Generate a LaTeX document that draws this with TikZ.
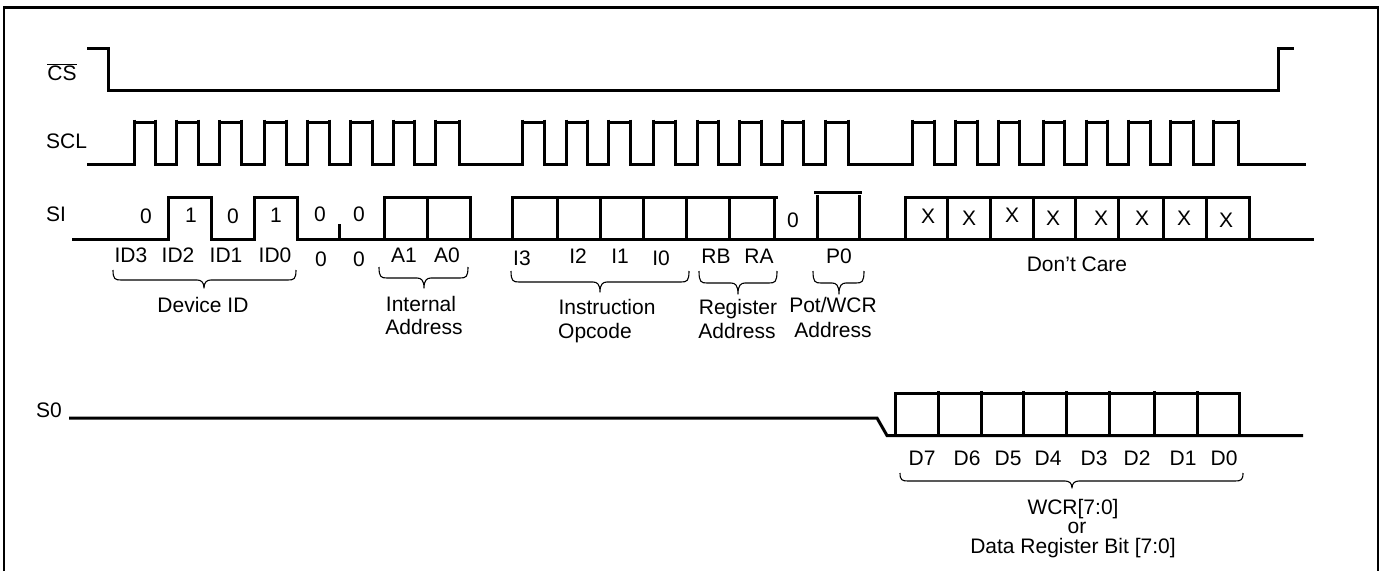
\documentclass[tikz,border=0pt]{standalone}
\usepackage{fontspec}
\setmainfont{Liberation Sans}
\tikzset{
  wave/.style={line width=3pt,line join=miter},
  frameline/.style={line width=2.6pt},
  bracecurve/.style={line width=1.1pt,line join=round},
  lbl/.style={anchor=base,inner sep=0pt,font=\fontsize{21}{24}\selectfont,text=black},
  lbll/.style={lbl,anchor=base west}
}
% brace: x1,x2,xtip,ytop,ybar,ytip
\newcommand{\curlybrace}[6]{%
  \draw[bracecurve] (#1,#4) .. controls (#1,#5-1) and (#1+2,#5) .. (#1+8,#5)
    -- (#3-7,#5) .. controls (#3-3,#5) and (#3,#5+2) .. (#3,#6)
    .. controls (#3,#5+2) and (#3+3,#5) .. (#3+7,#5)
    -- (#2-8,#5) .. controls (#2-2,#5) and (#2,#5-1) .. (#2,#4);}
\begin{document}
\begin{tikzpicture}[x=1pt,y=-1pt]
\useasboundingbox (0,0) rectangle (1381,571);
% frame
\draw[frameline] (4,571) -- (4,7.5) -- (1378,7.5) -- (1378,571);
% CS
\draw[wave] (87,48) -- (108,48) -- (108,90) -- (1278,90) -- (1278,48) -- (1294,48);
\node[lbl] (cs) at (62,80) {$\overline{\hbox{CS}}$};
% SCL
\node[lbll] (scl) at (46,148) {SCL};
\draw[wave] (87,164.5)
 \foreach \r/\f in {134/155,176/198,219/241,264/286,307/329,350/372,393/414,435/459,
   522/544,566/587,608/630,653/675,697/718,739/761,782/803,825/848,
   912/934,955/977,998/1019,1043/1064,1086/1107,1128/1150,1170/1193,1213/1238}
 { -- (\r,164.5) -- (\r,122) -- (\f,122) -- (\f,164.5) }
 -- (1306,164.5);
\foreach \r/\f in {134/155,176/198,219/241,264/286,307/329,350/372,393/414,435/459,
   522/544,566/587,608/630,653/675,697/718,739/761,782/803,825/848,
   912/934,955/977,998/1019,1043/1064,1086/1107,1128/1150,1170/1193,1213/1238}
 { \draw[wave] (\r,119.5) -- (\r,124); \draw[wave] (\f,119.5) -- (\f,124); }
% SI
\node[lbll] (si) at (46,221) {SI};
\draw[wave] (72,239) -- (168,239) -- (168,197) -- (211,197) -- (211,239) -- (254,239) -- (254,197) -- (297,197) -- (297,239) -- (1314,239);
\draw[wave] (339,224) -- (339,239);
\draw[wave] (384,239) -- (384,197) -- (470,197) -- (470,239);
\draw[wave] (427,197) -- (427,239);
\draw[wave] (512,239) -- (512,197) -- (778,197);
\foreach \x in {557,600,643,686,729,774} \draw[wave] (\x,197) -- (\x,239);
\draw[wave] (814,192) -- (862,192);
\draw[wave] (817,195) -- (817,239);
\draw[wave] (859,195) -- (859,239);
\draw[wave] (905,239) -- (905,197) -- (1249,197) -- (1249,239);
\foreach \x in {947,990,1033,1075,1118,1163,1206} \draw[wave] (\x,197) -- (\x,239);
% S0
\node[lbll] (s0) at (36,417) {S0};
\draw[wave] (69,418) -- (877,418) -- (887,435.5) -- (1303,435.5);
\draw[wave] (895,435.5) -- (895,393) -- (1239,393) -- (1239,435.5);
\foreach \x in {938,981,1023,1066,1109,1154,1197} \draw[wave] (\x,391) -- (\x,435.5);
% SI values
\foreach \x/\y/\t [count=\i] in {146/223/0,191/222/1,233/223/0,276/222/1,320/221/0,359/221/0,793/227/0,
  928/223/X,969/225/X,1012/222/X,1053/225/X,1101/225/X,1142/225/X,1184/225/X,1226/227/X}
  \node[lbl] (v\i) at (\x,\y) {\t};
% bit labels
\foreach \x/\y/\t [count=\i] in {131/262/ID3,178/262/ID2,226/262/ID1,275/262/ID0,321/266/0,359/266/0,404/262/A1,447/262/A0,
  522/265/I3,578/263/I2,620/263/I1,661/265/I0,716/263/RB,759/263/RA,839/263/P0,
  922/465/D7,967/465/D6,1008/465/D5,1048/465/D4,1094/465/D3,1137/465/D2,1183/465/D1,1224/465/D0}
  \node[lbl] (b\i) at (\x,\y) {\t};
% braces
\curlybrace{113}{296}{204}{270}{280}{288}
\curlybrace{379}{468}{424}{267}{278}{288}
\curlybrace{511}{689}{600}{271}{282}{292}
\curlybrace{699}{777}{738}{271}{283}{294}
\curlybrace{813}{864}{839}{271}{283}{294}
\curlybrace{900}{1243}{1072}{473}{481}{488}
% group labels
\node[lbl] (g1) at (203,312) {Device ID};
\node[lbl] (g2) at (421,311) {Internal};
\node[lbl] (g3) at (424,334) {Address};
\node[lbl] (g4) at (607,314) {Instruction};
\node[lbl] (g5) at (595,338) {Opcode};
\node[lbl] (g6) at (738,314) {Register};
\node[lbl] (g7) at (737,338) {Address};
\node[lbl] (g8) at (833,312) {Pot/WCR};
\node[lbl] (g9) at (833,337) {Address};
\node[lbl] (g10) at (1077,271) {Don’t Care};
\node[lbl] (g11) at (1073,514) {WCR[7:0]};
\node[lbl] (g12) at (1077,533) {or};
\node[lbl] (g13) at (1073,553) {Data Register Bit [7:0]};
\end{tikzpicture}
\end{document}
